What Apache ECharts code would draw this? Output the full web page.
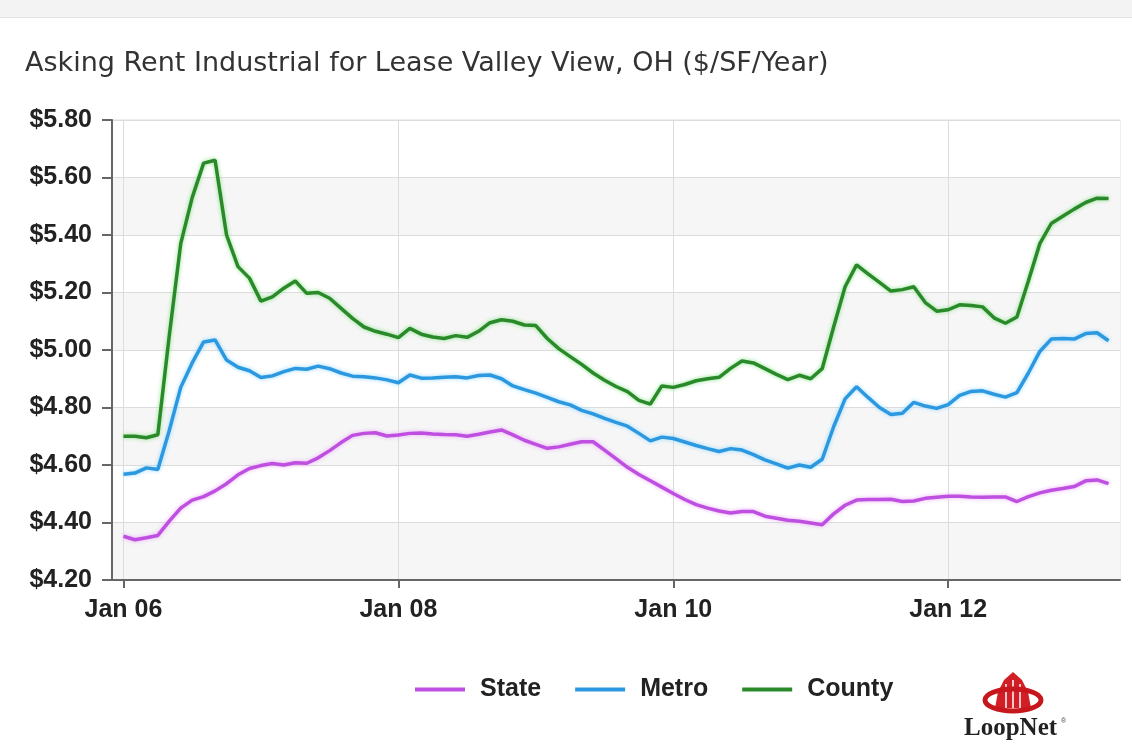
<!DOCTYPE html>
<html>
<head>
<meta charset="utf-8">
<script src="https://cdn.jsdelivr.net/npm/echarts@6/dist/echarts.min.js"></script>
<style>
html,body{margin:0;padding:0;background:#fff;}
#chart{width:1132px;height:751px;}
</style>
</head>
<body>
<div id="chart"></div>
<script>
// Monthly, Jan 2006 .. Mar 2013 (index 0..86)
const seriesNames = ['State', 'Metro', 'County'];
const tickIndex = [0, 24, 48, 72];
const tickLabels = ['Jan 06', 'Jan 08', 'Jan 10', 'Jan 12'];

const stateVals = [
  4.352, 4.340, 4.347, 4.355, 4.405, 4.450, 4.478, 4.490, 4.510, 4.535, 4.566, 4.588,
  4.598, 4.605, 4.600, 4.608, 4.606, 4.625, 4.650, 4.678, 4.703, 4.710, 4.712, 4.701,
  4.704, 4.710, 4.711, 4.708, 4.706, 4.705, 4.700, 4.707, 4.715, 4.722, 4.705, 4.686,
  4.672, 4.658, 4.663, 4.672, 4.681, 4.681, 4.652, 4.622, 4.592, 4.567, 4.545, 4.523,
  4.501, 4.480, 4.462, 4.450, 4.440, 4.433, 4.438, 4.438, 4.422, 4.415, 4.408, 4.404,
  4.398, 4.392, 4.430, 4.460, 4.478, 4.480, 4.480, 4.481, 4.473, 4.475, 4.484, 4.488,
  4.491, 4.491, 4.489, 4.488, 4.489, 4.489, 4.473, 4.490, 4.503, 4.512, 4.518, 4.525,
  4.545, 4.548, 4.535
];
const metroVals = [
  4.568, 4.572, 4.590, 4.584, 4.720, 4.870, 4.955, 5.028, 5.035, 4.965, 4.940, 4.928,
  4.904, 4.910, 4.925, 4.936, 4.933, 4.944, 4.935, 4.920, 4.909, 4.907, 4.903, 4.896,
  4.886, 4.913, 4.902, 4.903, 4.905, 4.907, 4.903, 4.911, 4.913, 4.900, 4.875, 4.862,
  4.850, 4.835, 4.820, 4.809, 4.790, 4.778, 4.762, 4.748, 4.735, 4.710, 4.684, 4.697,
  4.692, 4.680, 4.668, 4.657, 4.647, 4.657, 4.652, 4.636, 4.618, 4.604, 4.589, 4.600,
  4.592, 4.620, 4.733, 4.830, 4.872, 4.835, 4.800, 4.776, 4.780, 4.818, 4.805, 4.797,
  4.810, 4.842, 4.856, 4.858, 4.846, 4.836, 4.852, 4.920, 4.995, 5.038, 5.040, 5.038,
  5.057, 5.060, 5.032
];
const countyVals = [
  4.700, 4.700, 4.695, 4.705, 5.050, 5.370, 5.530, 5.650, 5.660, 5.400, 5.290, 5.250,
  5.170, 5.185, 5.215, 5.240, 5.197, 5.200, 5.180, 5.145, 5.110, 5.080, 5.065, 5.055,
  5.043, 5.075, 5.055, 5.045, 5.040, 5.050, 5.044, 5.065, 5.095, 5.105, 5.100, 5.087,
  5.085, 5.040, 5.005, 4.977, 4.950, 4.920, 4.895, 4.873, 4.855, 4.825, 4.812, 4.875,
  4.870, 4.880, 4.893, 4.900, 4.905, 4.936, 4.962, 4.955, 4.935, 4.915, 4.897, 4.912,
  4.900, 4.935, 5.080, 5.220, 5.296, 5.265, 5.235, 5.205, 5.210, 5.220, 5.165, 5.135,
  5.140, 5.157, 5.155, 5.150, 5.112, 5.093, 5.115, 5.240, 5.370, 5.440, 5.465, 5.490,
  5.513, 5.528, 5.527
];

const colors = ['#bf4fe0', '#2b98e0', '#2a8a2a'];
const glow = ['#eab0f8', '#9ad8ff', '#8fe08f'];

const toPairs = arr => arr.map((v, i) => [i, v]);
const allVals = [stateVals, metroVals, countyVals];

const chart = echarts.init(document.getElementById('chart'));
chart.setOption({
  backgroundColor: '#ffffff',
  animation: false,
  title: {
    text: 'Asking Rent Industrial for Lease Valley View, OH ($/SF/Year)',
    left: 20, top: 45,
    textStyle: { fontFamily: 'DejaVu Sans', fontWeight: 'normal', fontSize: 27, color: '#333' }
  },
  legend: {
    bottom: 44, left: 410,
    itemWidth: 50, itemHeight: 4, itemGap: 34,
    icon: 'rect',
    textStyle: { fontFamily: 'Liberation Sans', fontWeight: 'bold', fontSize: 25, color: '#222', padding: [0, 0, 0, 10] },
    data: seriesNames
  },
  grid: {
    left: 112, right: 12, top: 120, bottom: 171,
    show: true, borderColor: '#dddddd', borderWidth: 1, backgroundColor: 'transparent'
  },
  xAxis: {
    type: 'value', min: -1, max: 87,
    axisLine: { show: true, onZero: false, lineStyle: { color: '#666', width: 2 } },
    axisTick: { show: true, customValues: tickIndex, length: 8, lineStyle: { color: '#666', width: 2 } },
    axisLabel: {
      customValues: tickIndex,
      formatter: v => tickLabels[tickIndex.indexOf(v)] || '',
      fontFamily: 'Liberation Sans', fontWeight: 'bold', fontSize: 25, color: '#222', margin: 18
    },
    splitLine: { show: true, lineStyle: { color: '#dcdcdc', width: 1 } }
  },
  yAxis: {
    type: 'value', min: 4.2, max: 5.8, interval: 0.2,
    axisLine: { show: true, onZero: false, lineStyle: { color: '#666', width: 2 } },
    axisTick: { show: true, length: 10, lineStyle: { color: '#666', width: 2 } },
    axisLabel: {
      formatter: v => '$' + v.toFixed(2),
      fontFamily: 'Liberation Sans', fontWeight: 'bold', fontSize: 25, color: '#222', margin: 20
    },
    splitLine: { show: true, lineStyle: { color: '#dcdcdc', width: 1 } },
    splitArea: { show: true, areaStyle: { color: ['#f6f6f6', '#ffffff'] } }
  },
  series: seriesNames.map((name, k) => ({
    name: name,
    type: 'line',
    data: toPairs(allVals[k]),
    showSymbol: false,
    symbol: 'none',
    color: colors[k],
    lineStyle: { width: 3.5, color: colors[k], shadowColor: glow[k], shadowBlur: 4 },
    z: 2 + k
  })),
  graphic: [
    { type: 'rect', shape: { x: 0, y: 0, width: 1132, height: 17 }, style: { fill: '#f3f3f3' }, silent: true },
    { type: 'line', shape: { x1: 0, y1: 17.5, x2: 1132, y2: 17.5 }, style: { stroke: '#e2e2e2', lineWidth: 1 }, silent: true },
    // LoopNet logo
    { type: 'polygon', shape: { points: [[995, 708], [998, 692], [1004, 680], [1013, 672], [1022, 680], [1028, 692], [1031, 708]] }, style: { fill: '#d21f26' } },
    { type: 'line', shape: { x1: 1006, y1: 684, x2: 1006, y2: 708 }, style: { stroke: '#fff', lineWidth: 1.5 } },
    { type: 'line', shape: { x1: 1013, y1: 680, x2: 1013, y2: 708 }, style: { stroke: '#fff', lineWidth: 1.5 } },
    { type: 'line', shape: { x1: 1020, y1: 684, x2: 1020, y2: 708 }, style: { stroke: '#fff', lineWidth: 1.5 } },
    { type: 'ellipse', shape: { cx: 1013, cy: 700, rx: 28, ry: 11 }, style: { fill: 'none', stroke: '#c8161d', lineWidth: 5 } },
    { type: 'text', left: 964, top: 716, style: { text: 'LoopNet', fontFamily: 'Liberation Serif', fontWeight: 'bold', fontSize: 25, fill: '#222' } },
    { type: 'text', left: 1061, top: 718, style: { text: '®', fontFamily: 'Liberation Sans', fontSize: 7, fill: '#444' } }
  ]
});
</script>
</body>
</html>
